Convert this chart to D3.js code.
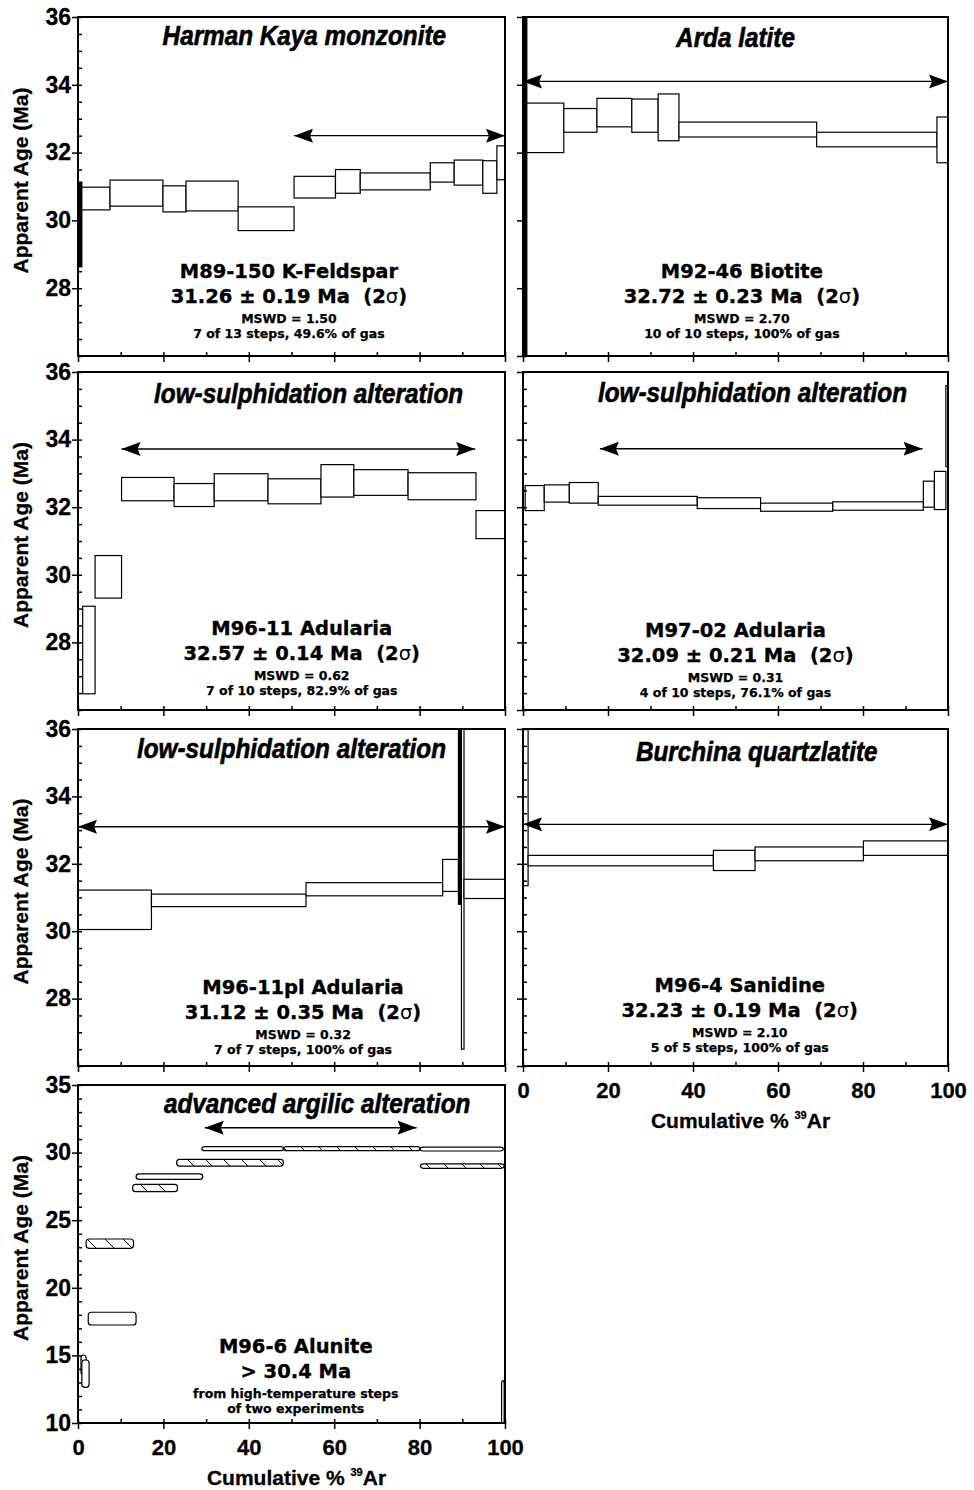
<!DOCTYPE html>
<html lang="en">
<head>
<meta charset="utf-8">
<style>
    body { margin: 0; background: #fff; }
    .panel-title { font-family: "Liberation Sans", Arial, sans-serif; font-weight: bold; font-style: italic; font-size: 27px; stroke: #000; stroke-width: 0.6; }
    .sample { font-family: "DejaVu Sans", sans-serif; font-weight: bold; font-size: 19.5px; white-space: pre; stroke: #000; stroke-width: 0.35; }
    .note { font-family: "DejaVu Sans", sans-serif; font-weight: bold; font-size: 12.5px; stroke: #000; stroke-width: 0.25; }
    .axis-title { font-family: "Liberation Sans", Arial, sans-serif; font-weight: bold; font-size: 21px; stroke: #000; stroke-width: 0.3; }
    .step { stroke: #000; stroke-width: 1.2; }
    .frame { fill: none; stroke: #000; stroke-width: 2; }
    .plateau { stroke: #000; stroke-width: 1.4; }
</style>
<script src="https://d3js.org/d3.v7.min.js"></script>
</head>
<body>
<script>
    // step boxes: [cum % start, cum % end, age top, age bottom]
    var hkSteps = [
        [0, 0.9, 31.13, 28.63], [0.9, 7.5, 30.98, 30.31], [7.5, 19.9, 31.19, 30.42],
        [19.9, 25.3, 31.02, 30.25], [25.3, 37.5, 31.16, 30.28], [37.5, 50.6, 30.40, 29.70],
        [50.6, 60.3, 31.30, 30.66], [60.3, 66.1, 31.50, 30.80], [66.1, 82.5, 31.40, 30.90],
        [82.5, 88.1, 31.70, 31.13], [88.1, 94.8, 31.78, 31.04], [94.8, 98.1, 31.76, 30.80],
        [98.1, 100, 32.20, 31.20]
    ];
    var ardaSteps = [
        [0, 0.9, 40, 20], [0.9, 9.6, 33.46, 32.00], [9.6, 17.4, 33.30, 32.60],
        [17.4, 25.6, 33.60, 32.76], [25.6, 31.8, 33.58, 32.60], [31.8, 36.7, 33.73, 32.35],
        [36.7, 69.1, 32.90, 32.46], [69.1, 97.4, 32.60, 32.17], [97.4, 100, 33.05, 31.70]
    ];
    var m9611Steps = [
        [1.1, 4.0, 29.07, 26.48], [4.0, 10.2, 30.57, 29.31], [10.2, 22.5, 32.88, 32.19],
        [22.5, 31.9, 32.70, 32.02], [31.9, 44.5, 32.99, 32.19], [44.5, 56.9, 32.84, 32.10],
        [56.9, 64.6, 33.26, 32.30], [64.6, 77.3, 33.11, 32.35], [77.3, 93.2, 33.02, 32.22],
        [93.2, 100, 31.90, 31.07]
    ];
    var m9702Steps = [
        [0.5, 5.0, 32.64, 31.90], [5.0, 10.9, 32.66, 32.15], [10.9, 17.7, 32.73, 32.12],
        [17.7, 41.0, 32.32, 32.06], [41.0, 55.9, 32.28, 31.96], [55.9, 72.9, 32.12, 31.88],
        [72.9, 94.2, 32.16, 31.91], [94.2, 96.8, 32.77, 32.00], [96.8, 99.5, 33.06, 31.93],
        [99.5, 100, 35.60, 33.20]
    ];
    var m9611plSteps = [
        [0, 17.2, 31.22, 30.05], [17.2, 53.4, 31.10, 30.73], [53.4, 85.4, 31.44, 31.05],
        [85.4, 89.1, 32.13, 31.18], [89.1, 89.8, 37, 30.80], [89.8, 90.4, 37, 26.50],
        [90.4, 100, 31.54, 30.97]
    ];
    var m964Steps = [
        [0, 1.2, 37, 31.35], [1.2, 44.8, 32.25, 31.94], [44.8, 54.6, 32.40, 31.80],
        [54.6, 80.1, 32.50, 32.09], [80.1, 100, 32.68, 32.25]
    ];
    // alunite: last field = experiment (1 or 2)
    var m966Steps = [
        [29.0, 48.1, 30.44, 30.14, 1], [48.1, 80.1, 30.44, 30.14, 2], [80.1, 99.6, 30.40, 30.12, 1],
        [23.1, 48.1, 29.50, 29.00, 2], [13.6, 29.2, 28.42, 28.02, 1], [12.8, 23.3, 27.65, 27.11, 2],
        [1.9, 13.0, 23.61, 22.92, 2], [2.4, 13.6, 18.19, 17.25, 1], [0.7, 1.9, 15.03, 13.55, 2],
        [0.9, 2.6, 14.66, 12.64, 1], [80.2, 99.8, 29.16, 28.84, 2], [99.2, 99.8, 13.13, 9.5, 1]
    ];

    // plateau arrows: [from %, to %, age]
    var plateaus = [[50.6, 100, 32.5], [0, 100, 34.1], [10.2, 93, 33.72], [18.1, 94, 33.73],
                    [0, 100, 33.1], [0, 100, 33.17], [29.7, 79.3, 31.84]];

    var titles = ["Harman Kaya monzonite", "Arda latite", "low-sulphidation alteration",
                  "low-sulphidation alteration", "low-sulphidation alteration",
                  "Burchina quartzlatite", "advanced argilic alteration"];
    var samples = ["M89-150 K-Feldspar", "M92-46 Biotite", "M96-11 Adularia", "M97-02 Adularia",
                   "M96-11pl Adularia", "M96-4 Sanidine", "M96-6 Alunite"];
    var ageTexts = ["31.26 ± 0.19 Ma", "32.72 ± 0.23 Ma", "32.57 ± 0.14 Ma", "32.09 ± 0.21 Ma",
                    "31.12 ± 0.35 Ma", "32.23 ± 0.19 Ma", "> 30.4 Ma"];
    var notes1 = ["MSWD = 1.50", "MSWD = 2.70", "MSWD = 0.62", "MSWD = 0.31",
                  "MSWD = 0.32", "MSWD = 2.10", "from high-temperature steps"];
    var notes2 = ["7 of 13 steps, 49.6% of gas", "10 of 10 steps, 100% of gas",
                  "7 of 10 steps, 82.9% of gas", "4 of 10 steps, 76.1% of gas",
                  "7 of 7 steps, 100% of gas", "5 of 5 steps, 100% of gas", "of two experiments"];
    var allSteps = [hkSteps, ardaSteps, m9611Steps, m9702Steps, m9611plSteps, m964Steps, m966Steps];

    var ageDomain = [26, 36], ageDomainAlunite = [10, 35];
    var ageLabels = [28, 30, 32, 34, 36];
    var ageLabelsAlunite = [10, 15, 20, 25, 30, 35];
    var cumLabels = [0, 20, 40, 60, 80, 100];

    // layout and style
    var cols = [[78, 505], [523, 948]];
    var rows = [[17, 356], [372, 710], [729, 1066], [1085, 1423]];
    var layout = [
        {col: 0, row: 0, tx: 0.53, ty: 28, lx: 0.494, ly: -78},
        {col: 1, row: 0, tx: 0.50, ty: 30, lx: 0.515, ly: -78},
        {col: 0, row: 1, tx: 0.54, ty: 31, lx: 0.524, ly: -75},
        {col: 1, row: 1, tx: 0.54, ty: 30, lx: 0.50, ly: -73},
        {col: 0, row: 2, tx: 0.50, ty: 29, lx: 0.527, ly: -72},
        {col: 1, row: 2, tx: 0.55, ty: 32, lx: 0.51, ly: -74, xAxis: true},
        {col: 0, row: 3, tx: 0.56, ty: 28, lx: 0.51, ly: -70, xAxis: true}
    ];
    // very narrow steps that print as solid black bars (panel -> step indices)
    var solidSteps = {0: [0], 1: [0], 4: [4]};

    var svg = d3.select("body").append("svg").attr("width", 974).attr("height", 1490);
    var defs = svg.append("defs");

    var hatch = defs.append("pattern").attr("id", "hatch")
        .attr("patternUnits", "userSpaceOnUse").attr("width", 18).attr("height", 18);
    hatch.append("rect").attr("width", 18).attr("height", 18).attr("fill", "#fff");
    hatch.append("path").attr("d", "M0,0L18,18M-2,16L2,20M16,-2L20,2")
        .attr("stroke", "#000").attr("stroke-width", 1);

    defs.append("marker").attr("id", "head")
        .attr("markerUnits", "userSpaceOnUse")
        .attr("viewBox", "0 -8 20 16").attr("markerWidth", 20).attr("markerHeight", 16)
        .attr("refX", 19).attr("refY", 0).attr("orient", "auto-start-reverse")
        .append("path").attr("d", "M0,-7L19,0L0,7L3,0Z").attr("fill", "#000");

    titles.forEach(function(t, i) {
        var lay = layout[i];
        var x0 = cols[lay.col][0], x1 = cols[lay.col][1],
            y0 = rows[lay.row][0], y1 = rows[lay.row][1];
        var alunite = i === 6;
        var solid = solidSteps[i] || [];

        var x = d3.scaleLinear().domain([0, 100]).range([x0, x1]);
        var y = d3.scaleLinear().domain(alunite ? ageDomainAlunite : ageDomain).range([y1, y0]);

        var g = svg.append("g");

        defs.append("clipPath").attr("id", "clip" + i)
            .append("rect").attr("x", x0).attr("y", y0).attr("width", x1 - x0).attr("height", y1 - y0);

        g.append("g").attr("clip-path", "url(#clip" + i + ")")
            .selectAll("rect")
            .data(allSteps[i])
            .join("rect")
            .attr("class", "step")
            .attr("x", function(d) { return x(d[0]); })
            .attr("width", function(d) { return x(d[1]) - x(d[0]); })
            .attr("y", function(d) { return y(d[2]); })
            .attr("height", function(d) { return y(d[3]) - y(d[2]); })
            .attr("rx", alunite ? 3 : 0)
            .attr("fill", function(d, j) {
                if (solid.indexOf(j) >= 0) return "#000";
                return d[4] === 2 ? "url(#hatch)" : "#fff";
            });

        var pl = plateaus[i];
        g.append("line").attr("class", "plateau")
            .attr("x1", x(pl[0])).attr("x2", x(pl[1]))
            .attr("y1", y(pl[2])).attr("y2", y(pl[2]))
            .attr("marker-start", "url(#head)").attr("marker-end", "url(#head)");

        g.append("rect").attr("class", "frame")
            .attr("x", x0).attr("y", y0).attr("width", x1 - x0).attr("height", y1 - y0);

        // y axis: major ticks out, minor ticks in
        var yAxis = g.append("g").attr("transform", "translate(" + x0 + ",0)")
            .call(d3.axisLeft(y)
                .tickValues(alunite ? ageLabelsAlunite : (lay.col === 0 ? ageLabels : [26].concat(ageLabels)))
                .tickSizeInner(6).tickSizeOuter(0).tickPadding(1)
                .tickFormat(lay.col === 0 ? d3.format("d") : ""));
        yAxis.append("g").call(d3.axisRight(y).ticks(alunite ? 25 : 20)
            .tickSize(4).tickSizeOuter(0).tickFormat(""));
        yAxis.selectAll(".domain").remove();
        yAxis.selectAll("line").attr("stroke-width", 1.5);
        yAxis.selectAll("text")
            .attr("font-family", "Liberation Sans, Arial, sans-serif")
            .attr("font-weight", "bold").attr("font-size", 23)
            .attr("stroke", "#000").attr("stroke-width", 0.3);

        // x axis
        var xAxis = g.append("g").attr("transform", "translate(0," + y1 + ")")
            .call(d3.axisBottom(x).tickValues(cumLabels)
                .tickSizeInner(6).tickSizeOuter(0).tickPadding(10)
                .tickFormat(lay.xAxis ? d3.format("d") : ""));
        xAxis.append("g").call(d3.axisTop(x).ticks(10).tickSize(4).tickSizeOuter(0).tickFormat(""));
        xAxis.selectAll(".domain").remove();
        xAxis.selectAll("line").attr("stroke-width", 1.5);
        xAxis.selectAll("text")
            .attr("font-family", "Liberation Sans, Arial, sans-serif")
            .attr("font-weight", "bold").attr("font-size", 22)
            .attr("stroke", "#000").attr("stroke-width", 0.3);

        // titles
        g.append("g")
            .attr("transform", "translate(" + (x0 + lay.tx * (x1 - x0)) + "," + (y0 + lay.ty) + ") scale(0.9,1)")
            .append("text").attr("class", "panel-title").attr("text-anchor", "middle").text(t);

        var lx = x0 + lay.lx * (x1 - x0), ly = y1 + lay.ly;
        g.append("text").attr("class", "sample").attr("text-anchor", "middle")
            .attr("x", lx).attr("y", ly).text(samples[i]);
        var age = g.append("text").attr("class", "sample").attr("text-anchor", "middle")
            .attr("x", lx).attr("y", ly + 25);
        if (alunite) {
            age.text(ageTexts[i]);
        } else {
            age.append("tspan").text(ageTexts[i] + "  (2");
            age.append("tspan").attr("font-weight", "normal").attr("stroke-width", 0).text("σ");
            age.append("tspan").text(")");
        }
        g.append("text").attr("class", "note").attr("text-anchor", "middle")
            .attr("x", lx).attr("y", ly + 45).text(notes1[i]);
        g.append("text").attr("class", "note").attr("text-anchor", "middle")
            .attr("x", lx).attr("y", ly + 60).text(notes2[i]);

        if (lay.col === 0) {
            g.append("text").attr("class", "axis-title").attr("text-anchor", "middle")
                .attr("transform", "translate(28," + ((y0 + y1) / 2 - 6) + ") rotate(-90)")
                .text("Apparent Age (Ma)");
        }
        if (lay.xAxis) {
            var xt = g.append("text").attr("class", "axis-title").attr("text-anchor", "middle")
                .attr("x", (x0 + x1) / 2 + 5).attr("y", y1 + 62);
            xt.append("tspan").text("Cumulative % ");
            xt.append("tspan").attr("font-size", 11).attr("dy", -9).text("39");
            xt.append("tspan").attr("dy", 9).text("Ar");
        }
    });
</script>
</body>
</html>
